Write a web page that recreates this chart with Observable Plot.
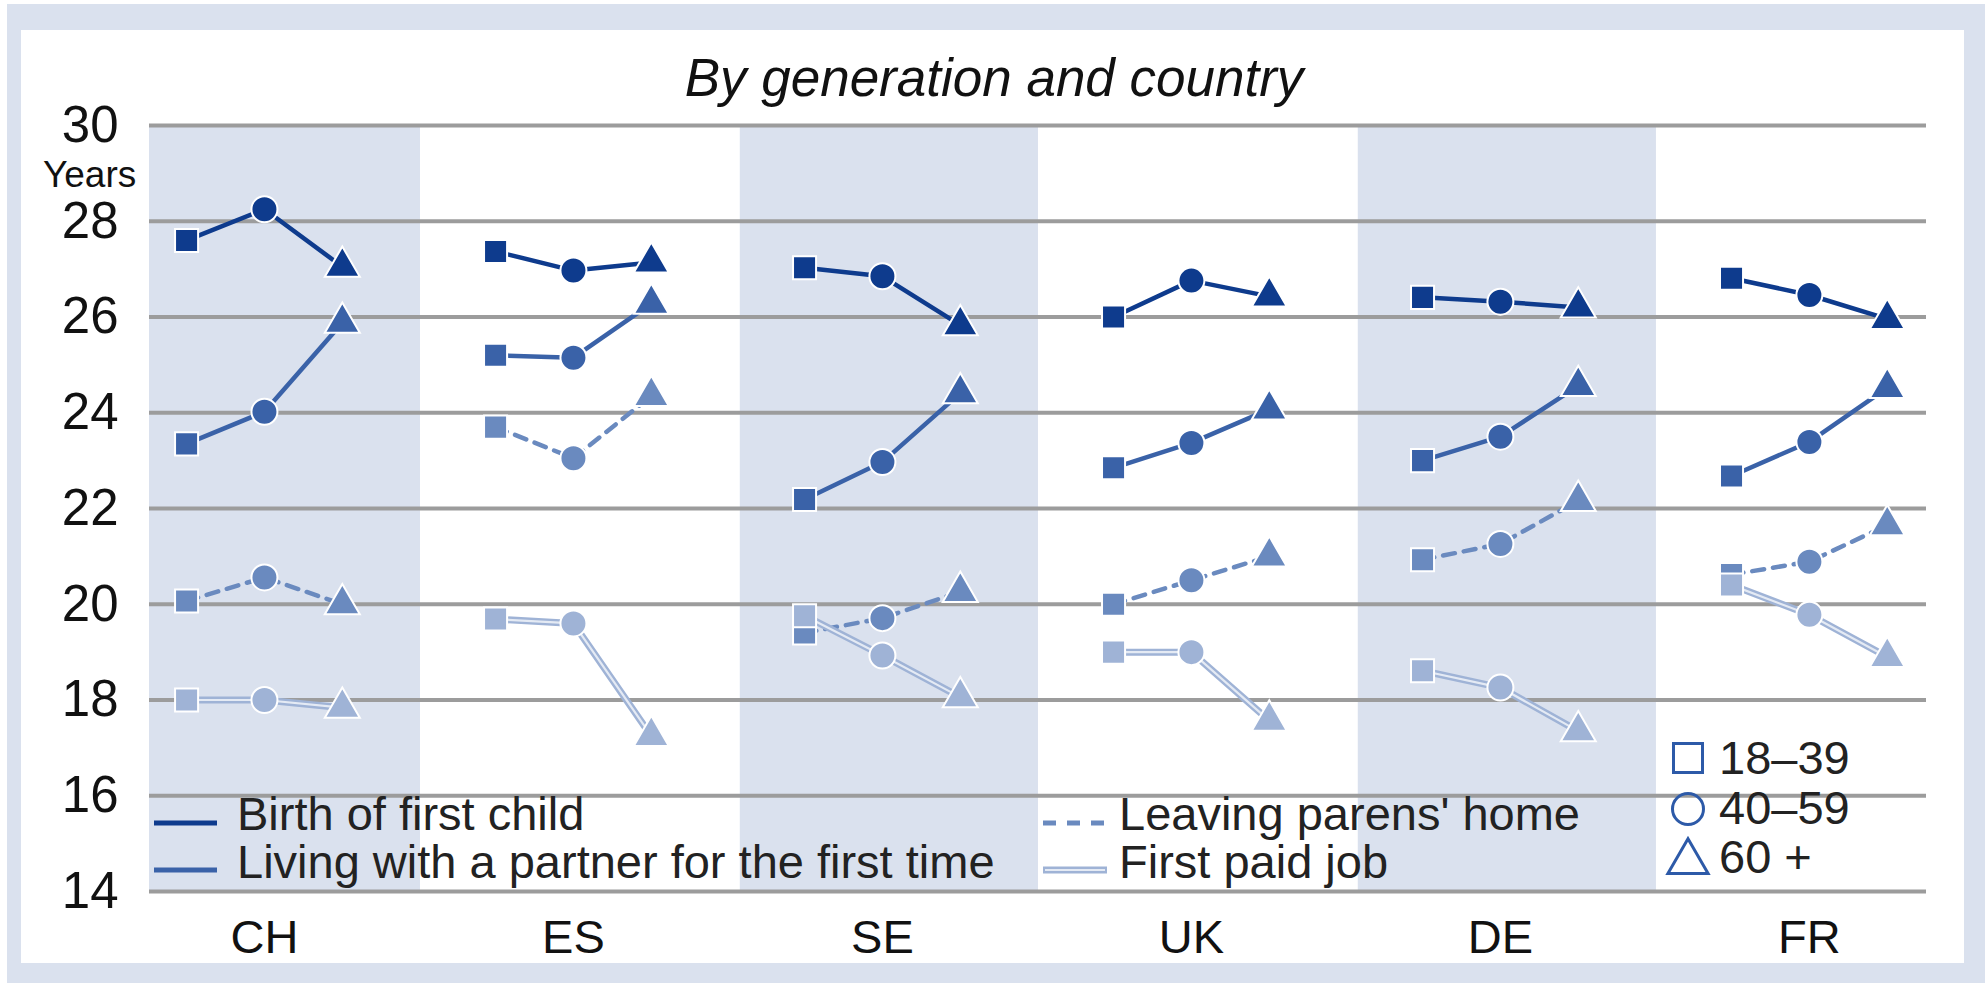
<!DOCTYPE html>
<html>
<head>
<meta charset="utf-8">
<script src="https://cdn.jsdelivr.net/npm/d3@7"></script>
<script src="https://cdn.jsdelivr.net/npm/@observablehq/plot@0.6"></script>
<style>
  html, body { margin: 0; padding: 0; background: #ffffff; }
  #frame { position: absolute; left: 7px; top: 4px; width: 1978px; height: 979px; background: #dae1ee; }
  #panel { position: absolute; left: 21px; top: 30px; width: 1943px; height: 933px; background: #ffffff; }
  #chart { position: absolute; left: 0; top: 0; }
  #overlay { position: absolute; left: 0; top: 0; }
  svg text { font-family: "Liberation Sans", Arial, sans-serif; }
</style>
</head>
<body>
<div id="frame"></div>
<div id="panel"></div>
<div id="chart"></div>
<script>
// ---------------- data ----------------
const countries = ["CH", "ES", "SE", "UK", "DE", "FR"];
const generations = ["18–39", "40–59", "60 +"];
const seriesNames = [
  "Birth of first child",
  "Living with a partner for the first time",
  "Leaving parens' home",
  "First paid job"
];
// values per country (rows, in the order of countries) and generation (columns)
const birthFirstChild = [
  [27.60, 28.25, 27.05],
  [27.37, 26.97, 27.14],
  [27.03, 26.85, 25.83],
  [26.00, 26.76, 26.43],
  [26.41, 26.32, 26.20],
  [26.81, 26.46, 25.96]
];
const livingWithPartner = [
  [23.35, 24.02, 25.88],
  [25.20, 25.15, 26.28],
  [22.19, 22.97, 24.41],
  [22.85, 23.37, 24.07],
  [23.00, 23.50, 24.56],
  [22.68, 23.39, 24.52]
];
const leavingParentsHome = [
  [20.07, 20.56, 20.00],
  [23.70, 23.05, 24.35],
  [19.40, 19.71, 20.26],
  [20.00, 20.50, 21.00],
  [20.93, 21.26, 22.16],
  [20.62, 20.89, 21.65]
];
const firstPaidJob = [
  [18.00, 18.00, 17.84],
  [19.69, 19.60, 17.25],
  [19.76, 18.93, 18.06],
  [19.00, 19.00, 17.57],
  [18.61, 18.26, 17.35],
  [20.40, 19.78, 18.90]
];
const yTicks = [14, 16, 18, 20, 22, 24, 26, 28, 30];
const titleText = "By generation and country";
const yUnit = "Years";

// ---------------- build table ----------------
const seriesValues = [birthFirstChild, livingWithPartner, leavingParentsHome, firstPaidJob];
const rows = [];
seriesNames.forEach((s, si) =>
  countries.forEach((c, ci) =>
    generations.forEach((g, gi) =>
      rows.push({series: s, si, country: c, ci, gen: g, gi, value: seriesValues[si][ci][gi]}))));

const colors = ["#0e3b8d", "#3a62a8", "#6a8abf", "#9fb3d6"];
const genSpacing = 0.252;
const pos = d => d.ci + (d.gi - 1) * genSpacing;
const xDomain = [-0.372, 5.379];
const bands = countries.map((c, i) => ({i})).filter(d => d.i % 2 === 0);

const marks = [
  Plot.rect(bands, {
    x1: d => Math.max(d.i - 0.46, xDomain[0]),
    x2: d => Math.min(d.i + 0.505, xDomain[1]),
    y1: yTicks[0], y2: yTicks[yTicks.length - 1],
    fill: "#dae1ee"
  }),
  Plot.gridY(yTicks, {stroke: "#9c9c9c", strokeOpacity: 1, strokeWidth: 4}),
  Plot.axisY({ticks: yTicks, tickSize: 0, tickPadding: 31, fontSize: 51, label: null}),
  Plot.axisX({ticks: d3.range(countries.length), tickFormat: i => countries[i], tickSize: 0, tickPadding: 28, fontSize: 47, label: null})
];

seriesNames.forEach((s, si) => {
  const data = rows.filter(d => d.si === si);
  if (si === 3) {
    marks.push(Plot.line(data, {x: pos, y: "value", z: "country", stroke: colors[si], strokeWidth: 7}));
    marks.push(Plot.line(data, {x: pos, y: "value", z: "country", stroke: "#e4eaf4", strokeWidth: 2.2}));
  } else {
    marks.push(Plot.line(data, {x: pos, y: "value", z: "country", stroke: colors[si], strokeWidth: 4.5,
      strokeDasharray: si === 2 ? "12,9" : null}));
  }
  marks.push(Plot.dot(data, {x: pos, y: "value", symbol: "gen", fill: colors[si], stroke: "#ffffff", strokeWidth: 2, r: 13}));
});

const chart = Plot.plot({
  width: 1985,
  height: 983,
  marginLeft: 149,
  marginRight: 59,
  marginTop: 125,
  marginBottom: 92,
  x: {type: "linear", domain: xDomain, axis: null},
  y: {domain: [yTicks[0], yTicks[yTicks.length - 1]], axis: null},
  symbol: {domain: generations, range: ["square", "circle", "triangle"]},
  style: {fontFamily: "Liberation Sans, Arial, sans-serif", background: "transparent", color: "#111", overflow: "visible"},
  marks
});
document.getElementById("chart").appendChild(chart);

// ---------------- title, unit and legends ----------------
const ov = d3.select("body").append("svg")
  .attr("id", "overlay").attr("width", 1985).attr("height", 983);

ov.append("text").attr("x", 994).attr("y", 96).attr("text-anchor", "middle")
  .attr("font-size", 53).attr("font-style", "italic").attr("fill", "#111").text(titleText);
ov.append("text").attr("x", 43).attr("y", 187).attr("font-size", 37).attr("fill", "#111").text(yUnit);

// series legend (two columns, two rows)
const legendCols = [{sx1: 154, sx2: 217, tx: 237}, {sx1: 1043, sx2: 1107, tx: 1119}];
const legendRows = [{sy: 823, ty: 830}, {sy: 870, ty: 878}];
seriesNames.forEach((s, si) => {
  const col = legendCols[si < 2 ? 0 : 1];
  const row = legendRows[si % 2];
  const g = ov.append("g");
  if (si === 3) {
    g.append("line").attr("x1", col.sx1).attr("x2", col.sx2).attr("y1", row.sy).attr("y2", row.sy)
      .attr("stroke", colors[si]).attr("stroke-width", 7);
    g.append("line").attr("x1", col.sx1 + 2).attr("x2", col.sx2 - 2).attr("y1", row.sy).attr("y2", row.sy)
      .attr("stroke", "#e4eaf4").attr("stroke-width", 2.2);
  } else {
    g.append("line").attr("x1", col.sx1).attr("x2", col.sx2).attr("y1", row.sy).attr("y2", row.sy)
      .attr("stroke", colors[si]).attr("stroke-width", 5)
      .attr("stroke-dasharray", si === 2 ? "13,11" : null);
  }
  g.append("text").attr("x", col.tx).attr("y", row.ty).attr("font-size", 47).attr("fill", "#222").text(s);
});

// generation legend
const genSymbols = [d3.symbolSquare, d3.symbolCircle, d3.symbolTriangle];
const genSizes = [841, 755, 700];
const genSymY = [758, 809, 862];
const genTextY = [774, 824, 873];
generations.forEach((g, gi) => {
  ov.append("path")
    .attr("transform", `translate(1688,${genSymY[gi]})`)
    .attr("d", d3.symbol(genSymbols[gi], genSizes[gi])())
    .attr("fill", "none").attr("stroke", "#2d5aa8").attr("stroke-width", 3);
  ov.append("text").attr("x", 1719).attr("y", genTextY[gi]).attr("font-size", 47).attr("fill", "#222").text(g);
});
</script>
</body>
</html>
